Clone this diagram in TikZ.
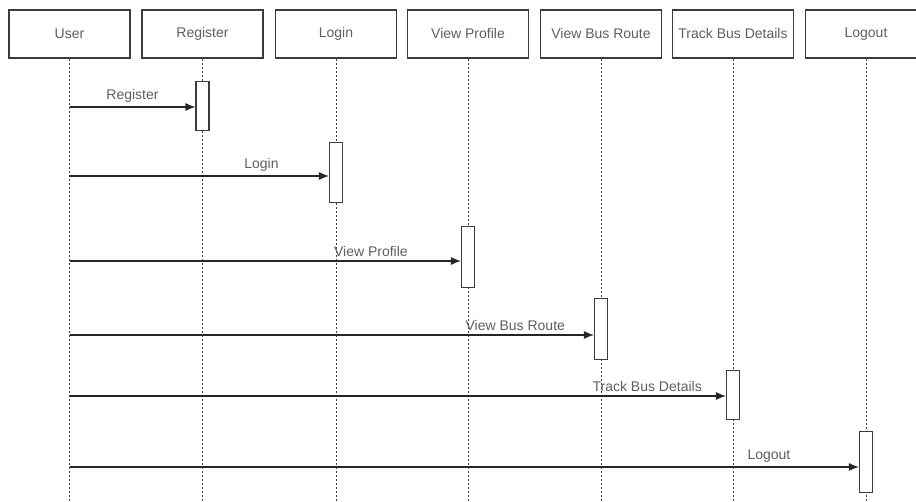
\documentclass[tikz,border=0pt]{standalone}
\usepackage{fontspec}
\setsansfont{Liberation Sans}
\usetikzlibrary{positioning,arrows.meta}
\definecolor{lgray}{RGB}{95,95,95}
\definecolor{bgray}{RGB}{60,60,60}
\tikzset{
  headbox/.style={rectangle,draw=bgray,line width=1.2pt,minimum width=121pt,
  minimum height=48pt,text=lgray,inner sep=0pt},
  lifeline/.style={draw=bgray,line width=1pt,dash pattern=on 2pt off 2pt},
  actbox/.style={rectangle,draw=bgray,fill=white,line width=1.1pt,
  minimum width=13pt,inner sep=0pt},
  msg/.style={line width=1.2pt,draw=black!85,-{Latex[length=10pt,width=8pt]}},
  msglabel/.style={text=lgray,inner sep=1pt,above,yshift=3pt}
}
% #1 x, #2 id, #3 title
\newcommand{\LifeLine}[3]{
  \node[headbox] (head-#2) at (#1,34) {#3};
  \coordinate (foot-#2) at (#1,510);
  \draw[lifeline] (head-#2.south) -- (foot-#2);
}
% #1 id, #2 target, #3 top, #4 height, #5 arrow level, #6 label, #7 pos
\newcommand{\Message}[7]{
  \coordinate (top-#1) at (0,#3);
  \coordinate (lvl-#1) at (0,#5);
  \node[actbox,minimum height=#4pt,anchor=north] (act-#1)
  at (head-#2.south |- top-#1) {};
  \draw[msg] (head-user.south |- lvl-#1) -- (act-#1.west |- lvl-#1)
  node[msglabel,pos=#7] (lbl-#1) {#6};
}

\begin{document}
\begin{tikzpicture}[x=1pt,y=-1pt,font=\fontsize{14}{16}\sffamily]
  \useasboundingbox (0,0) rectangle (916,502);
  \clip (0,0) rectangle (916,502);
  \fill[white] (0,0) rectangle (916,502);
  \LifeLine{69.5}{user}{User}
  \LifeLine{202.5}{reg}{Register}
  \LifeLine{336}{login}{Login}
  \LifeLine{468}{prof}{View Profile}
  \LifeLine{601}{route}{View Bus Route}
  \LifeLine{733}{track}{Track Bus Details}
  \LifeLine{866}{logout}{Logout}
  \Message{reg}{reg}{81}{49}{107}{Register}{0.5}
  \Message{login}{login}{142}{60}{176}{Login}{0.74}
  \Message{prof}{prof}{226}{61}{261}{View Profile}{0.77}
  \Message{route}{route}{298}{61}{335}{View Bus Route}{0.85}
  \Message{track}{track}{370}{49}{396}{Track Bus Details}{0.88}
  \Message{logout}{logout}{431}{61}{467}{Logout}{0.886}
\end{tikzpicture}
\end{document}
